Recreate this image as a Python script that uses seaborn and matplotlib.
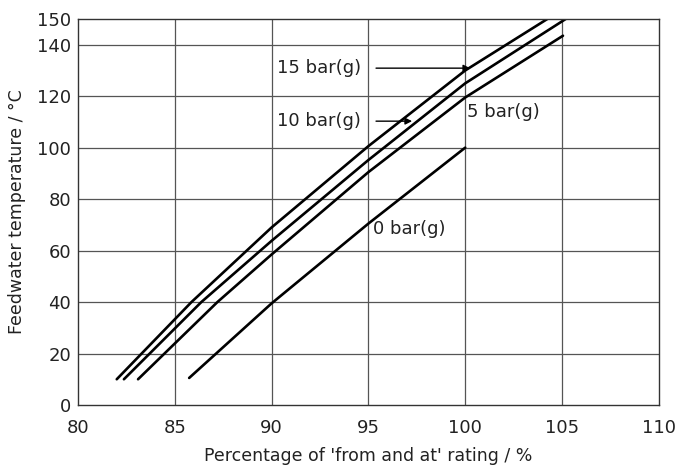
import matplotlib
matplotlib.use("Agg")
import matplotlib.pyplot as plt
import seaborn as sns
import pandas as pd

# Data
x_15 = [82.0, 85.86, 90.0, 95.0, 100.0, 104.24]
y_15 = [10, 40, 69, 100.6, 130, 150]
x_10 = [82.37, 86.37, 90.0, 95.0, 100.0, 105.19]
y_10 = [10, 40, 63.8, 95.2, 125, 150]
x_5 = [83.1, 87.2, 90.0, 95.0, 100.0, 105.05]
y_5 = [10, 40, 58.5, 90.5, 119.5, 143.5]
x_0 = [85.74, 90.0, 95.0, 100.0]
y_0 = [10.5, 39.5, 70.5, 100]
series_labels = ["15 bar(g)", "10 bar(g)", "5 bar(g)", "0 bar(g)"]
x_ticks = [80, 85, 90, 95, 100, 105, 110]
y_ticks = [0, 20, 40, 60, 80, 100, 120, 140, 150]

frames = []
for lab, xs, ys in zip(series_labels, [x_15, x_10, x_5, x_0], [y_15, y_10, y_5, y_0]):
    frames.append(pd.DataFrame({"x": xs, "y": ys, "series": lab}))
df = pd.concat(frames, ignore_index=True)

sns.set_theme(style="white")
plt.rcParams['font.family'] = ['DejaVu Sans']

fig = plt.figure(figsize=(6.75, 4.67), dpi=100)
ax = fig.add_axes([0.1156, 0.1328, 0.8604, 0.8265])

sns.lineplot(data=df, x="x", y="y", hue="series", palette=["black"] * 4,
             sort=False, estimator=None, legend=False, linewidth=1.9, ax=ax)

ax.set_xlim(80, 110)
ax.set_ylim(0, 150)
ax.set_xticks(x_ticks)
ax.set_yticks(y_ticks)
ax.tick_params(axis="both", length=0, labelsize=13, colors="#222222")
ax.tick_params(axis="x", pad=10)
ax.tick_params(axis="y", pad=5)
for v in x_ticks[1:-1]:
    ax.axvline(v, color="#555555", lw=0.9, zorder=0)
for v in y_ticks[1:-1]:
    ax.axhline(v, color="#555555", lw=0.9, zorder=0)
for s in ax.spines.values():
    s.set_color("#333333")
    s.set_linewidth(1.0)

ax.set_xlabel("Percentage of 'from and at' rating / %", fontsize=12.5, color="#222222", labelpad=7)
ax.set_ylabel("Feedwater temperature / °C", fontsize=12.5, color="#222222", labelpad=8)

# Annotations
fs = 13
ax.text(94.6, 130.9, "15 bar(g)", ha="right", va="center", fontsize=fs, color="#222222")
ax.annotate("", xy=(100.4, 130.9), xytext=(95.25, 130.9),
            arrowprops=dict(arrowstyle="-|>", color="black", lw=1.0, mutation_scale=10))
ax.text(94.6, 110.3, "10 bar(g)", ha="right", va="center", fontsize=fs, color="#222222")
ax.annotate("", xy=(97.4, 110.3), xytext=(95.25, 110.3),
            arrowprops=dict(arrowstyle="-|>", color="black", lw=1.0, mutation_scale=10))
ax.text(100.1, 113.8, "5 bar(g)", ha="left", va="center", fontsize=fs, color="#222222")
ax.text(95.25, 68.3, "0 bar(g)", ha="left", va="center", fontsize=fs, color="#222222")

fig.savefig("out.png", dpi=100)
